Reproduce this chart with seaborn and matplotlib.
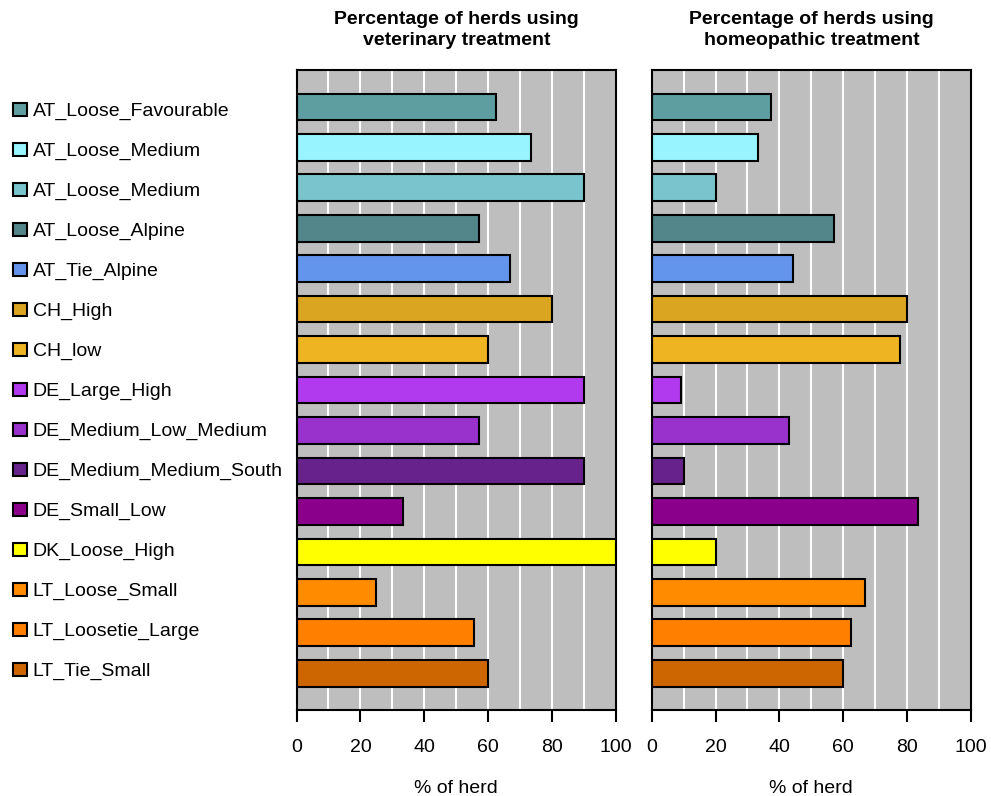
import pandas as pd
import matplotlib
matplotlib.use("Agg")
import matplotlib.pyplot as plt
import seaborn as sns
from matplotlib.patches import Patch

groups = ["AT_Loose_Favourable", "AT_Loose_Medium", "AT_Loose_Medium", "AT_Loose_Alpine",
          "AT_Tie_Alpine", "CH_High", "CH_low", "DE_Large_High", "DE_Medium_Low_Medium",
          "DE_Medium_Medium_South", "DE_Small_Low", "DK_Loose_High", "LT_Loose_Small",
          "LT_Loosetie_Large", "LT_Tie_Small"]
vet = [62.5, 73.3, 90.0, 57.1, 66.7, 80.0, 60.0, 90.0, 57.1, 90.0, 33.3, 100.0, 25.0, 55.6, 60.0]
homeo = [37.5, 33.3, 20.0, 57.1, 44.4, 80.0, 77.8, 9.1, 42.9, 10.0, 83.3, 20.0, 66.7, 62.5, 60.0]
colors = ["#5F9EA0", "#98F5FF", "#7AC5CD", "#53868B", "#6495ED", "#DAA520", "#EEB422",
          "#B23AEE", "#9932CC", "#68228B", "#8B008B", "#FFFF00", "#FF8C00", "#FF7F00", "#CD6600"]

df = pd.DataFrame({
    "key": [str(i) for i in range(len(groups))],
    "group": groups,
    "vet": vet,
    "homeo": homeo,
})
pal = dict(zip(df["key"], colors))

sns.set_theme(style="ticks")
plt.rcParams["font.family"] = ["Liberation Sans", "DejaVu Sans"]
plt.rcParams["text.color"] = "black"
plt.rcParams["axes.labelcolor"] = "black"
plt.rcParams["xtick.color"] = "black"

fig = plt.figure(figsize=(9.91, 7.96), dpi=100)
ax1 = fig.add_axes([0.2992, 0.1080, 0.3224, 0.8040])
ax2 = fig.add_axes([0.6576, 0.1080, 0.3222, 0.8040])

titles = ["Percentage of herds using\nveterinary treatment",
          "Percentage of herds using\nhomeopathic treatment"]

for ax, col, title in zip([ax1, ax2], ["vet", "homeo"], titles):
    ax.set_facecolor("#BEBEBE")
    ax.set_axisbelow(True)
    sns.barplot(data=df, x=col, y="key", hue="key", palette=pal, orient="h",
                width=0.66, edgecolor="black", linewidth=1.5, legend=False,
                saturation=1, ax=ax)
    ax.set_xlim(0, 100)
    ax.set_ylim(14.91, -0.91)
    ax.set_xticks(range(0, 101, 20))
    ax.set_xticks(range(10, 100, 20), minor=True)
    ax.grid(axis="x", which="both", color="white", linewidth=1.5)
    ax.tick_params(axis="x", which="major", labelsize=14, length=8.5, width=1.5, pad=12.5)
    ax.tick_params(axis="x", which="minor", length=0)
    ax.set_yticks([])
    ax.set_ylabel("")
    ax.set_xlabel("% of herd", fontsize=14, labelpad=17)
    ax.set_title(title, fontsize=14, fontweight="bold", pad=18, linespacing=1.3)
    for s in ax.spines.values():
        s.set_visible(True)
        s.set_color("black")
        s.set_linewidth(1.5)

handles = [Patch(facecolor=c, edgecolor="black", linewidth=1.5, label=g)
           for g, c in zip(groups, colors)]
fig.legend(handles=handles, loc="upper left", bbox_to_anchor=(0.005, 0.881),
           frameon=False, fontsize=14, handlelength=0.72, handleheight=0.72,
           handletextpad=0.3, labelspacing=1.136, borderaxespad=0)

plt.savefig("out.png", dpi=100)
